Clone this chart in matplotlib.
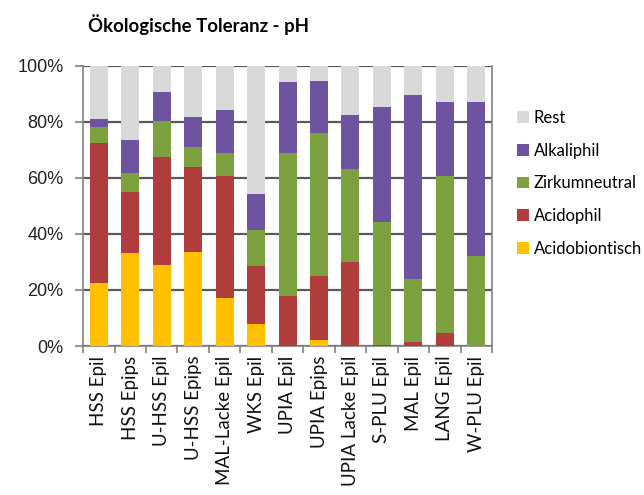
import matplotlib
matplotlib.use("Agg")
import matplotlib.pyplot as plt
import numpy as np

categories = ["HSS Epil", "HSS Epips", "U-HSS Epil", "U-HSS Epips", "MAL-Lacke Epil",
              "WKS Epil", "UPIA Epil", "UPIA Epips", "UPIA Lacke Epil", "S-PLU Epil",
              "MAL Epil", "LANG Epil", "W-PLU Epil"]
acidobiontisch = [22.4, 33.1, 28.9, 33.7, 17.0, 7.9, 0.0, 2.0, 0.0, 0.0, 0.0, 0.0, 0.0]
acidophil      = [50.0, 22.0, 38.5, 30.3, 43.7, 20.7, 18.0, 23.0, 30.1, 0.5, 1.5, 4.5, 0.0]
zirkumneutral  = [5.6, 6.8, 13.0, 7.2, 8.1, 12.8, 50.8, 51.2, 33.0, 43.7, 22.4, 56.3, 32.2]
alkaliphil     = [3.0, 11.7, 10.4, 10.7, 15.5, 12.9, 25.5, 18.4, 19.4, 41.1, 65.7, 26.4, 55.0]
rest = [100 - a - b - c - d for a, b, c, d in zip(acidobiontisch, acidophil, zirkumneutral, alkaliphil)]

series_names = ["Acidobiontisch", "Acidophil", "Zirkumneutral", "Alkaliphil", "Rest"]
colors = ["#FFC000", "#B03C3B", "#7BA23F", "#6E54A0", "#D9D9D9"]
yticks = [0, 20, 40, 60, 80, 100]
ytick_labels = ["0%", "20%", "40%", "60%", "80%", "100%"]

plt.rcParams['font.family'] = ['Lato', 'DejaVu Sans']
fig = plt.figure(figsize=(6.44, 4.95), dpi=100)
ax = fig.add_axes([0.129, 0.301, 0.635, 0.566])

x = np.arange(len(categories))
bottom = np.zeros(len(categories))
handles = []
for name, vals, col in zip(series_names, [acidobiontisch, acidophil, zirkumneutral, alkaliphil, rest], colors):
    h = ax.bar(x, vals, bottom=bottom, width=0.57, color=col, label=name, zorder=3)
    handles.append(h)
    bottom += np.array(vals)

ax.set_xlim(-0.5, len(categories) - 0.5)
ax.set_ylim(0, 100)
ax.set_yticks(yticks)
ax.set_yticklabels(ytick_labels, fontsize=13, family=['Liberation Sans', 'DejaVu Sans'], color='#222222')
ax.set_xticks(x)
ax.set_xticklabels(categories, rotation=90, fontsize=13.5, color='#111111')
ax.tick_params(axis='x', length=0, pad=7)
ax.set_xticks(np.arange(-0.5, len(categories), 1), minor=True)
ax.tick_params(axis='x', which='minor', length=5, color='#808080', width=1.2)
ax.tick_params(axis='y', length=6, color='#808080', width=1.2, pad=8)
ax.yaxis.grid(True, color='#595959', linewidth=1.6, zorder=0)
ax.set_axisbelow(True)
for s in ['left', 'bottom', 'right']:
    ax.spines[s].set_color('#808080')
    ax.spines[s].set_linewidth(1.2)
ax.spines['top'].set_visible(False)

fig.text(0.136, 0.95, "Ökologische Toleranz - pH", fontsize=13.4, fontweight='bold', ha='left', va='center')

leg = ax.legend(handles[::-1], series_names[::-1], loc='upper left', bbox_to_anchor=(1.025, 0.896),
                frameon=False, fontsize=12, handlelength=0.7, handleheight=0.7,
                handletextpad=0.3, labelspacing=1.0)

fig.savefig("out.png", dpi=100)
